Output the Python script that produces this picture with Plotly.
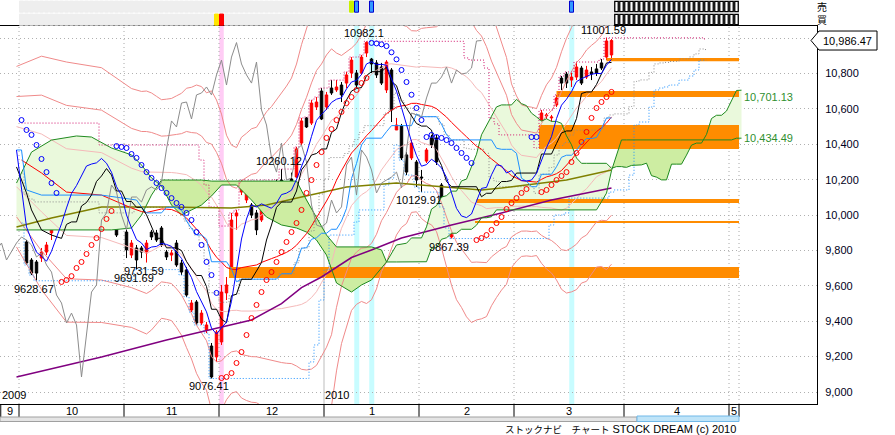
import plotly.graph_objects as go

# ---------------- candle data (trading-day index, OHLC) ----------------
day_idx = list(range(4, 123))
ohlc = [
    (10068, 10085, 9955, 9972), (9848, 9859, 9718, 9729), (9746, 9757, 9661, 9672),
    (9735, 9746, 9628.67, 9672), (9757, 9814, 9735, 9791), (9791, 9848, 9774, 9831),
    (9899, 10029, 9859, 10012), (10029, 10068, 10012, 10057), (10096, 10108, 10046, 10063),
    (10204, 10266, 10170, 10238), (10283, 10294, 10226, 10243), (10181, 10243, 10130, 10232),
    (10311, 10368, 10300, 10345), (10294, 10340, 10283, 10328), (10283, 10311, 10159, 10294),
    (10351, 10368, 10266, 10277), (10277, 10396, 10255, 10356), (10283, 10311, 10198, 10210),
    (10142, 10170, 10057, 10074), (9933, 9944, 9876, 9887), (10000, 10046, 9983, 10029),
    (9904, 9916, 9757, 9803), (9774, 9859, 9757, 9842), (9814, 9831, 9691.69, 9746),
    (9814, 9825, 9757, 9791), (9786, 9859, 9731.59, 9842), (9904, 9916, 9859, 9876),
    (9899, 9916, 9848, 9859), (9927, 9938, 9820, 9831), (9791, 9803, 9746, 9763),
    (9774, 9803, 9740, 9786), (9842, 9859, 9707, 9718), (9729, 9746, 9661, 9678),
    (9690, 9707, 9537, 9548), (9463, 9520, 9452, 9503), (9509, 9520, 9379, 9390),
    (9390, 9463, 9379, 9446), (9350, 9396, 9333, 9379), (9260, 9277, 9076.41, 9085),
    (9198, 9350, 9170, 9339), (9283, 9605, 9266, 9565), (9560, 9650, 9520, 9605),
    (9707, 10012, 9690, 9972), (9995, 10029, 9916, 10012), (10130, 10198, 10113, 10170),
    (10085, 10142, 10068, 10130), (10057, 10068, 9983, 10000), (10012, 10029, 9887, 9916),
    (9972, 10113, 9961, 10102), (10125, 10142, 10085, 10102), (10057, 10096, 10040, 10074),
    (10153, 10200, 10102, 10142), (10198, 10260.12, 10142, 10159), (10108, 10159, 10029, 10142),
    (10204, 10240, 10170, 10187), (10215, 10385, 10210, 10374), (10407, 10549, 10396, 10532),
    (10549, 10554, 10492, 10498), (10520, 10650, 10509, 10633), (10611, 10667, 10594, 10639),
    (10701, 10718, 10537, 10543), (10611, 10696, 10594, 10679), (10718, 10763, 10679, 10690),
    (10707, 10763, 10696, 10724), (10735, 10752, 10639, 10679), (10746, 10809, 10718, 10792),
    (10803, 10893, 10775, 10876), (10803, 10820, 10718, 10735), (10803, 10905, 10792, 10893),
    (10916, 10982.1, 10893, 10975), (10882, 10888, 10803, 10854), (10860, 10876, 10775, 10792),
    (10837, 10860, 10735, 10746), (10707, 10876, 10690, 10865), (10820, 10831, 10526, 10594),
    (10481, 10549, 10481, 10509), (10503, 10515, 10311, 10323), (10340, 10356, 10226, 10243),
    (10323, 10424, 10311, 10407), (10300, 10311, 10159, 10198), (10215, 10255, 10129.91, 10210),
    (10305, 10379, 10294, 10368), (10436, 10453, 10379, 10396), (10436, 10453, 10283, 10300),
    (10170, 10181, 10046, 10057), (10012, 10029, 9927, 9944), (9876, 9944, 9867.39, 9933),
    (10017, 10029, 9944, 9955), (10074, 10096, 10017, 10085), (10102, 10113, 10000, 10012),
    (10057, 10085, 10012, 10046), (10159, 10300, 10142, 10283), (10311, 10340, 10272, 10328),
    (10368, 10379, 10102, 10113), (10323, 10379, 10311, 10368), (10300, 10340, 10283, 10328),
    (10300, 10311, 10220, 10255), (10243, 10260, 10113, 10125), (10113, 10187, 10096, 10181),
    (10142, 10204, 10130, 10198), (10159, 10226, 10147, 10215), (10187, 10255, 10175, 10243),
    (10249, 10260, 10142, 10153), (10243, 10379, 10226, 10368), (10526, 10594, 10509, 10577),
    (10560, 10577, 10532, 10566), (10549, 10566, 10526, 10554), (10622, 10679, 10611, 10662),
    (10774, 10786, 10707, 10746), (10797, 10809, 10718, 10746), (10763, 10803, 10724, 10780),
    (10780, 10865, 10763, 10837), (10831, 10843, 10735, 10746), (10780, 10843, 10769, 10820),
    (10809, 10837, 10763, 10797), (10826, 10854, 10786, 10803), (10860, 10882, 10820, 10831),
    (10893, 11001.59, 10876, 10984), (10905, 10995, 10876, 10986.47),
]
opens = [r[0] for r in ohlc]
highs = [r[1] for r in ohlc]
lows = [r[2] for r in ohlc]
closes = [r[3] for r in ohlc]

ma5_early_idx = [3, 5, 6, 7]
ma5_early_val = [10368, 9933, 9859, 9790]
ma25_early_idx = [4, 8, 13, 20, 26]
ma25_early_val = [10311, 10238, 10130, 10113, 10040]
tenkan_early_idx = [3, 5, 6, 8, 10]
tenkan_early_val = [10272, 10125, 10029, 9916, 9887]
kijun_early_idx = [3, 4, 5, 8, 20, 27, 28]
kijun_early_val = [10368, 10368, 10142, 10113, 10113, 10085, 10046]
bb_early_idx = [3, 8, 13, 20, 26]
bb_p3 = [10840, 10898, 10865, 10833, 10715]
bb_p2 = [10670, 10678, 10620, 10593, 10490]
bb_p1 = [10500, 10458, 10375, 10353, 10265]
bb_m1 = [10160, 10018, 9885, 9873, 9815]
bb_m2 = [9990, 9798, 9640, 9633, 9590]
bb_m3 = [9820, 9578, 9395, 9393, 9365]

ma75_idx = [3, 10, 20, 33, 46, 53, 60, 69, 79, 96, 100, 113, 122]
ma75_val = [9933, 9983, 10046, 10046, 10040, 10057, 10102, 10159, 10181, 10142, 10153, 10198, 10255]
ma200_idx = [3, 20, 33, 46, 50, 56, 60, 64, 70, 74, 80, 90, 100, 110, 122]
ma200_val = [9085, 9198, 9294, 9380, 9407, 9500, 9590, 9650, 9760, 9803, 9870, 9944, 10012, 10085, 10153]

# cloud spans as drawn (displayed position) up to day 80
cloud_early_idx = [3, 6, 10, 15, 18, 22, 26, 28, 30, 32, 34, 36, 38, 40, 42, 44, 47, 50, 53, 56, 59, 61, 63,
                   65, 67, 70, 72, 74, 76, 77, 79]
span_a_early = [10181, 10356, 10424, 10447, 10441, 10379, 10340, 10283, 10210, 10164, 10057, 10000, 10029,
                10057, 10108, 10170, 10170, 10085, 9989, 9944, 9927, 9904, 9859, 9774, 9616, 9565, 9605, 9633,
                9701, 9735, 9831]
span_b_early = [9916, 9916, 9916, 9916, 9916, 9916, 9927, 10000, 10113, 10198, 10198, 10198, 10198, 10198,
                10192, 10192, 10192, 10192, 10192, 10192, 10192, 10085, 9989, 9887, 9820, 9820, 9820, 9820,
                9803, 9735, 9735]
pre_chart_high = 10520          # highest high carried in from September (drawn until day 19)
pre_chart_high_last_day = 19

# Parabolic SAR dots
sar_up_idx = [12, 13, 14, 15, 16, 17, 18, 19, 20, 21, 22,
              44, 45, 46, 47, 48, 49, 50, 51, 52, 53, 54, 55, 56, 57, 58, 59, 60, 61, 62, 63, 64, 65, 66, 67, 68,
              69, 70, 71, 72, 73,
              95, 96, 97, 98, 99, 100, 101, 102, 103, 104, 105,
              108, 109, 110, 111, 112, 113, 114, 115, 116, 117, 118, 119, 120, 121, 122]
sar_up_val = [9622, 9633, 9655, 9701, 9735, 9780, 9831, 9870, 9921, 9978, 10023,
              9079, 9085, 9107, 9164, 9226, 9322, 9418, 9492, 9565, 9633, 9678, 9735, 9791, 9848, 9904, 9955,
              10029, 10125, 10198, 10283, 10356, 10436, 10486, 10537, 10583, 10633, 10667, 10707, 10746, 10775,
              9859, 9870, 9887, 9916, 9955, 9989, 10034, 10068, 10096, 10125, 10147,
              10130, 10142, 10170, 10198, 10221, 10243, 10300, 10351, 10413, 10470, 10549, 10605, 10639, 10667,
              10696]
sar_dn_idx = [4, 5, 6, 7, 8, 9, 10, 11,
              23, 24, 25, 26, 27, 28, 29, 30, 31, 32, 33, 34, 35, 36, 37, 38, 39, 40, 41, 42, 43,
              74, 75, 76, 77, 78, 79, 80, 81, 82, 83, 84, 85, 86, 87, 88, 89, 90, 91, 92, 93, 94,
              106, 107]
sar_dn_val = [10537, 10481, 10453, 10396, 10317, 10243, 10181, 10125,
              10390, 10385, 10379, 10345, 10323, 10283, 10243, 10210, 10181, 10153, 10125, 10096, 10068, 10046,
              10012, 9972, 9904, 9831, 9735, 9661, 9560,
              10973, 10970, 10965, 10955, 10920, 10880, 10820, 10752, 10680, 10605, 10537, 10441, 10453, 10441,
              10436, 10424, 10407, 10379, 10351, 10323, 10294,
              10441, 10441]

# price-zone bands: start index, low, high
band_start = [45.5, 94.7, 95.0, 107.5, 111.0, 121.0]
band_low = [9644, 9955, 10068, 10373, 10667, 10870]
band_high = [9706, 9966, 10091, 10509, 10701, 10888]
band_end = 147.5

# extreme labels
peak_idx = [73, 121, 56]
peak_val = [10982.1, 11001.59, 10260.12]
trough_idx = [7, 27, 29, 42, 84, 90]
trough_val = [9628.67, 9691.69, 9731.59, 9076.41, 10129.91, 9867.39]
cloud_end_labels = ["10,701.13", "10,434.49"]

pink_days = [44]
cyan_days = [71, 74, 114]
month_names = ["9", "10", "11", "12", "1", "2", "3", "4", "5"]
month_edges = [-0.3, 3.5, 24.5, 43.5, 64.5, 83.5, 102.5, 124.5, 145.5, 147.5]
price_ticks = [9000, 9200, 9400, 9600, 9800, 10000, 10200, 10400, 10600, 10800, 11000]
last_price = 10986.47

# ---------------- derived indicator series (from the candle values above) ----------------
P = len(day_idx)


def mean(v):
    return sum(v) / len(v)


def midrange(p, w):
    return (max(highs[p - w + 1:p + 1]) + min(lows[p - w + 1:p + 1])) / 2


ma5_x = ma5_early_idx + day_idx[4:]
ma5_y = ma5_early_val + [mean(closes[p - 4:p + 1]) for p in range(4, P)]
mid_x = day_idx[24:]
mid_y, sig = [], []
for p in range(24, P):
    w = closes[p - 24:p + 1]
    m = mean(w)
    mid_y.append(m)
    sig.append((sum((c - m) ** 2 for c in w) / len(w)) ** 0.5)
ma25_x = ma25_early_idx + mid_x
ma25_y = ma25_early_val + mid_y
bands = []
for k, early in ((3, bb_p3), (2, bb_p2), (1, bb_p1), (-1, bb_m1), (-2, bb_m2), (-3, bb_m3)):
    bands.append((k, bb_early_idx + mid_x, early + [m + k * s for m, s in zip(mid_y, sig)]))
tenkan_x = tenkan_early_idx + day_idx[8:]
tenkan_y = tenkan_early_val + [midrange(p, 9) for p in range(8, P)]
kijun_x = kijun_early_idx + day_idx[25:]
kijun_y = kijun_early_val + [midrange(p, 26) for p in range(25, P)]

cx = list(cloud_early_idx)
ca = list(span_a_early)
cb = list(span_b_early)
for p in range(51, P):
    cx.append(day_idx[p] + 26)
    ca.append((midrange(p, 9) + midrange(p, 26)) / 2)
    cb.append(midrange(p, 52))

ch_x, ch_hi, ch_lo = [], [], []
for d in range(4, 142):
    ps = [p for p in range(P) if d - 19 <= day_idx[p] <= d]
    h = max(highs[p] for p in ps)
    if d <= pre_chart_high_last_day:
        h = max(h, pre_chart_high)
    ch_x.append(d)
    ch_hi.append(h)
    ch_lo.append(min(lows[p] for p in ps))
ch_mid = [(a + b) / 2 for a, b in zip(ch_hi, ch_lo)]

# ---------------- figure ----------------
FONT = "Liberation Sans, Arial, Noto Sans CJK JP, sans-serif"
fig = go.Figure()

# cloud fill, split where the spans cross
xs, A, B = [cx[0]], [ca[0]], [cb[0]]
for k in range(1, len(cx)):
    d0, d1 = ca[k - 1] - cb[k - 1], ca[k] - cb[k]
    if d0 * d1 < 0:
        t = d0 / (d0 - d1)
        xm = cx[k - 1] + t * (cx[k] - cx[k - 1])
        ym = ca[k - 1] + t * (ca[k] - ca[k - 1])
        xs.append(xm); A.append(ym); B.append(ym)
    xs.append(cx[k]); A.append(ca[k]); B.append(cb[k])
start = 0
for k in range(1, len(xs)):
    if A[k] == B[k] or k == len(xs) - 1:
        seg = range(start, k + 1)
        diff = sum(A[j] - B[j] for j in seg)
        color = "#eaf9dc" if diff >= 0 else "#cdeda2"
        px_ = [xs[j] for j in seg] + [xs[j] for j in reversed(seg)]
        py_ = [A[j] for j in seg] + [B[j] for j in reversed(seg)]
        fig.add_trace(go.Scatter(x=px_, y=py_, mode="lines", line=dict(width=0), fill="toself",
                                 fillcolor=color, hoverinfo="skip"))
        start = k

# orange price-zone bands
for s, lo, hi in zip(band_start, band_low, band_high):
    fig.add_trace(go.Scatter(x=[s, band_end, band_end, s, s], y=[lo, lo, hi, hi, lo], mode="lines",
                             line=dict(width=0), fill="toself", fillcolor="#ff8c00", hoverinfo="skip"))

# Bollinger bands
for k, bx, by in bands:
    col = "#f5b9b9" if abs(k) == 1 else "#f08a8a"
    fig.add_trace(go.Scatter(x=bx, y=by, mode="lines", line=dict(color=col, width=1)))

# price channel (dotted)
fig.add_trace(go.Scatter(x=ch_x, y=ch_hi, mode="lines", line=dict(color="#d0106a", width=1, dash="1px,2px"),
                         line_shape="hvh"))
fig.add_trace(go.Scatter(x=ch_x, y=ch_lo, mode="lines", line=dict(color="#1e90ff", width=1, dash="1px,2px"),
                         line_shape="hvh"))
fig.add_trace(go.Scatter(x=ch_x, y=ch_mid, mode="lines", line=dict(color="#8a8a8a", width=1, dash="1px,2px"),
                         line_shape="hvh"))

# moving averages and ichimoku lines
fig.add_trace(go.Scatter(x=ma200_idx, y=ma200_val, mode="lines", line=dict(color="#800080", width=1.5)))
fig.add_trace(go.Scatter(x=ma75_idx, y=ma75_val, mode="lines", line=dict(color="#808000", width=1.5)))
fig.add_trace(go.Scatter(x=cx, y=ca, mode="lines", line=dict(color="#1f8a1f", width=1)))
fig.add_trace(go.Scatter(x=cx, y=cb, mode="lines", line=dict(color="#1f8a1f", width=1)))
fig.add_trace(go.Scatter(x=ma25_x, y=ma25_y, mode="lines", line=dict(color="#ff0000", width=1)))
fig.add_trace(go.Scatter(x=kijun_x, y=kijun_y, mode="lines", line=dict(color="#1e90ff", width=1)))
fig.add_trace(go.Scatter(x=[d - 26 for d in day_idx], y=closes, mode="lines",
                         line=dict(color="#8c8c8c", width=1)))
fig.add_trace(go.Scatter(x=tenkan_x, y=tenkan_y, mode="lines", line=dict(color="#000000", width=1)))
fig.add_trace(go.Scatter(x=ma5_x, y=ma5_y, mode="lines", line=dict(color="#0000ff", width=1)))

# SAR
fig.add_trace(go.Scatter(x=sar_up_idx, y=sar_up_val, mode="markers",
                         marker=dict(symbol="circle-open", size=5, color="#ff0000", line=dict(width=1))))
fig.add_trace(go.Scatter(x=sar_dn_idx, y=sar_dn_val, mode="markers",
                         marker=dict(symbol="circle-open", size=5, color="#0000ff", line=dict(width=1))))

# candles
fig.add_trace(go.Candlestick(x=day_idx, open=opens, high=highs, low=lows, close=closes,
                             increasing=dict(line=dict(color="#ff0000", width=1), fillcolor="#ff0000"),
                             decreasing=dict(line=dict(color="#000000", width=1), fillcolor="#000000"),
                             hoverinfo="skip"))

# ---------- top strip cells ----------
strip_days = list(range(4, 123))
top_color = {70: "#c8f000", 71: "#3399ff", 74: "#3399ff", 114: "#3399ff"}
bot_color = {43: "#ffe600", 44: "#ff0000"}
for row, cmap in ((1, top_color), (0, bot_color)):
    cols = [cmap.get(d, "#eeeeee") for d in strip_days]
    lines = ["#0000cc" if cmap.get(d) == "#3399ff" else cols[j] for j, d in enumerate(strip_days)]
    fig.add_trace(go.Bar(x=strip_days, y=[0.86] * len(strip_days), base=[row + 0.06] * len(strip_days),
                         width=0.8, marker=dict(color=cols, line=dict(color=lines, width=1)),
                         yaxis="y2", hoverinfo="skip"))
future_days = list(range(123, 148))
for row in (0, 1):
    fig.add_trace(go.Bar(x=future_days, y=[0.8] * len(future_days), base=[row + 0.1] * len(future_days),
                         width=0.7, marker=dict(color="white", line=dict(color="black", width=1.3)),
                         yaxis="y2", hoverinfo="skip"))

# ---------- shapes ----------
Y0, Y1 = 31 / 435, 409 / 435
shapes = []
for d in pink_days:
    shapes.append(dict(type="rect", xref="x", yref="paper", x0=d - 0.45, x1=d + 0.45, y0=Y0, y1=Y1,
                       fillcolor="#ffccf5", line=dict(width=0), layer="below"))
for d in cyan_days:
    shapes.append(dict(type="rect", xref="x", yref="paper", x0=d - 0.45, x1=d + 0.55, y0=Y0, y1=Y1,
                       fillcolor="#c8fcff", line=dict(width=0), layer="below"))
for e in month_edges[1:]:
    if e == 64.5:
        shapes.append(dict(type="line", xref="x", yref="paper", x0=e, x1=e, y0=Y0, y1=Y1,
                           line=dict(color="#bdbdbd", width=1), layer="below"))
    else:
        shapes.append(dict(type="line", xref="x", yref="paper", x0=e, x1=e, y0=Y0, y1=Y1,
                           line=dict(color="#a8a8a8", width=1, dash="1px,3px"), layer="below"))
MR0, MR1 = 18 / 435, 31 / 435
for e in month_edges:
    xe = e + (0.15 if e < 0 else 0)
    shapes.append(dict(type="line", xref="x", yref="paper", x0=xe, x1=xe, y0=MR0, y1=MR1,
                       line=dict(color="black", width=1)))
shapes.append(dict(type="rect", xref="paper", yref="paper", x0=0, x1=637 / 817, y0=13.5 / 435, y1=18 / 435,
                   fillcolor="#e4e4e4", line=dict(color="#a0a0a0", width=1)))
shapes.append(dict(type="rect", xref="paper", yref="paper", x0=637 / 817, x1=739 / 817, y0=13.5 / 435,
                   y1=19 / 435, fillcolor="#bfe4f8", line=dict(color="#70b8e8", width=1)))
tag_h = 9.5 * 5.652
shapes.append(dict(type="path", xref="paper", yref="y",
                   path=f"M {811/817},{last_price} L {819/817},{last_price + tag_h} L {877/817},{last_price + tag_h} "
                        f"L {877/817},{last_price - tag_h} L {819/817},{last_price - tag_h} Z",
                   fillcolor="white", line=dict(color="black", width=1)))

# ---------- annotations ----------
ann = []
for d, v in zip(peak_idx, peak_val):
    ann.append(dict(x=d, y=v, xref="x", yref="y", text=str(v), showarrow=False, yanchor="bottom",
                    xshift=-3, font=dict(size=11, color="black")))
for d, v in zip(trough_idx, trough_val):
    ann.append(dict(x=d, y=v, xref="x", yref="y", text=str(v), showarrow=False, yanchor="top",
                    xshift=-3, font=dict(size=11, color="black")))
ann.append(dict(x=147.5, y=ca[-1], xref="x", yref="y", text=cloud_end_labels[0], showarrow=False,
                xanchor="left", yanchor="middle", yshift=-7, xshift=3, font=dict(size=11, color="#2f8f2f")))
ann.append(dict(x=147.5, y=cb[-1], xref="x", yref="y", text=cloud_end_labels[1], showarrow=False,
                xanchor="left", yanchor="middle", xshift=3, font=dict(size=11, color="#2f8f2f")))
ann.append(dict(x=821 / 817, y=last_price, xref="paper", yref="y", text=f"{last_price:,.2f}", showarrow=False,
                xanchor="left", yanchor="middle", font=dict(size=11, color="black")))
for k, name in enumerate(month_names):
    ann.append(dict(x=(month_edges[k] + month_edges[k + 1]) / 2, y=(MR0 + MR1) / 2, xref="x",
                    yref="paper", text=name, showarrow=False, xanchor="center", yanchor="middle",
                    font=dict(size=11, color="black")))
ann.append(dict(x=-0.3, y=Y0, xref="x", yref="paper", text="2009", showarrow=False, xanchor="left",
                yanchor="bottom", yshift=1, font=dict(size=11, color="black")))
ann.append(dict(x=64.5, y=Y0, xref="x", yref="paper", text="2010", showarrow=False, xanchor="left",
                yanchor="bottom", xshift=-1, yshift=1, font=dict(size=11, color="black")))
ann.append(dict(x=822 / 817, y=1 - 13.5 / 435, xref="paper", yref="paper", text="売<br>買", showarrow=False,
                xanchor="center", yanchor="middle",
                font=dict(size=10, color="black", family="Noto Sans CJK JP")))
ann.append(dict(x=738 / 817, y=6 / 435, xref="paper", yref="paper",
                text="<span style='font-size:9.5px'>ストックナビ　チャート</span> STOCK DREAM (c) 2010",
                showarrow=False, xanchor="right", yanchor="middle", font=dict(size=11, color="black")))

fig.update_layout(
    width=895, height=435, margin=dict(l=0, r=78, t=0, b=0),
    paper_bgcolor="white", plot_bgcolor="white", showlegend=False, barmode="overlay",
    hovermode=False, font=dict(family=FONT, size=11, color="black"),
    xaxis=dict(range=[-0.3, 163.1], showgrid=False, zeroline=False, showticklabels=False, showline=True,
               linecolor="black", linewidth=1, mirror=True, rangeslider=dict(visible=False), fixedrange=True),
    yaxis=dict(domain=[Y0, Y1], range=[8932.2, 11068.6], side="right", tickvals=price_ticks,
               ticktext=[f"{t:,}" if t < 11000 else "" for t in price_ticks], showgrid=True,
               gridcolor="#b0b0b0", griddash="1px,3px", zeroline=False, showline=True, linecolor="black",
               linewidth=1, mirror=True, ticks="", ticklabelstandoff=5, fixedrange=True,
               tickfont=dict(size=11, color="#000020")),
    yaxis2=dict(domain=[Y1, 1], range=[0, 2], visible=False, anchor="x", fixedrange=True),
    shapes=shapes, annotations=ann,
)
fig.write_html("out.html", config={"displayModeBar": False, "staticPlot": True},
               post_script="document.body.style.margin='0px';document.body.style.overflow='hidden';")
